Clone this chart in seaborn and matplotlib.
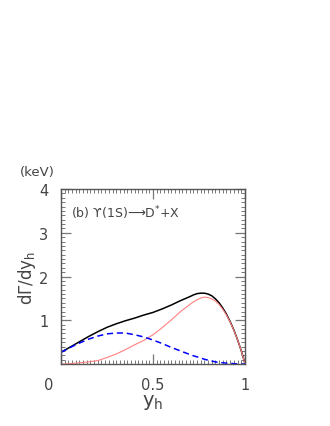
import numpy as np
import pandas as pd
import seaborn as sns
import matplotlib.pyplot as plt
from matplotlib.ticker import MultipleLocator, FixedLocator
from matplotlib.transforms import ScaledTranslation

# values
y_h = [0.0, 0.05, 0.1, 0.15, 0.2, 0.25, 0.3, 0.35, 0.4, 0.45, 0.5, 0.55, 0.6, 0.65,
       0.7, 0.72, 0.74, 0.76, 0.78, 0.8, 0.82, 0.84, 0.86, 0.88, 0.9, 0.92, 0.94,
       0.96, 0.98, 1.0]
total = [0.27, 0.39, 0.51, 0.63, 0.74, 0.84, 0.92, 0.99, 1.05, 1.12, 1.18, 1.26, 1.35, 1.45,
         1.54, 1.58, 1.61, 1.62, 1.62, 1.60, 1.56, 1.49, 1.40, 1.28, 1.14, 0.97, 0.78,
         0.56, 0.31, 0.02]
octet = [0.0, 0.01, 0.03, 0.05, 0.08, 0.15, 0.23, 0.33, 0.44, 0.54, 0.67, 0.83, 1.01, 1.2,
         1.36, 1.42, 1.47, 1.51, 1.53, 1.52, 1.49, 1.44, 1.36, 1.25, 1.12, 0.96, 0.77,
         0.56, 0.31, 0.02]
singlet = [0.27, 0.38, 0.48, 0.57, 0.64, 0.69, 0.71, 0.71, 0.67, 0.62, 0.55, 0.47, 0.38, 0.30,
           0.22, 0.19, 0.165, 0.14, 0.11, 0.09, 0.07, 0.05, 0.04, 0.03, 0.02, 0.015, 0.01,
           0.005, 0.0, 0.0]

df = pd.DataFrame({"y_h": y_h, "total": total, "octet": octet, "singlet": singlet})

sns.set_style("ticks")
plt.rcParams['font.family'] = ['DejaVu Sans']

fig = plt.figure(figsize=(3.3, 4.27), dpi=100)
ax = fig.add_axes([0.185, 0.145, 0.557, 0.41])

sns.lineplot(data=df, x="y_h", y="total", color="black", lw=1.1, ax=ax)
sns.lineplot(data=df, x="y_h", y="octet", color="#ff8080", lw=0.8, ax=ax)
sns.lineplot(data=df, x="y_h", y="singlet", color="blue", lw=1.1, ls=(0, (4, 2.5)), ax=ax)

ax.set_xlim(0, 1)
ax.set_ylim(0, 4)

gray = "#444444"
ax.xaxis.set_major_locator(FixedLocator([0, 0.5, 1]))
ax.set_xticklabels(["0", "0.5", "1"])
ax.xaxis.set_minor_locator(MultipleLocator(0.02))
ax.yaxis.set_major_locator(FixedLocator([1, 2, 3, 4]))
ax.set_yticklabels(["1", "2", "3", "4"])
ax.yaxis.set_minor_locator(MultipleLocator(0.1))
ax.tick_params(which="both", direction="in", top=True, right=True, colors="#777777",
               labelcolor=gray, labelsize=10.5)
ax.tick_params(which="major", length=7, width=0.9, pad=9)
ax.tick_params(which="minor", length=3, width=0.7)

# corner "0" sits a bit to the left
lab0 = ax.get_xticklabels()[0]
lab0.set_transform(lab0.get_transform() + ScaledTranslation(-0.12, 0, fig.dpi_scale_trans))

for s in ax.spines.values():
    s.set_color("#555555")
    s.set_linewidth(1.0)

ax.set_xlabel("y$_\\mathregular{h}$", fontsize=14, color=gray, labelpad=0)
ax.set_ylabel("d\u0393/dy$_\\mathregular{h}$", fontsize=12, color=gray, labelpad=1)
ax.text(0.055, 0.87, "(b) \u03d2(1S)\u27f6D$^{*}$+X", transform=ax.transAxes,
        fontsize=9, color=gray, va="center")
fig.text(0.06, 0.588, "(keV)", fontsize=9.5, color=gray)

fig.savefig("out.png", dpi=100)
